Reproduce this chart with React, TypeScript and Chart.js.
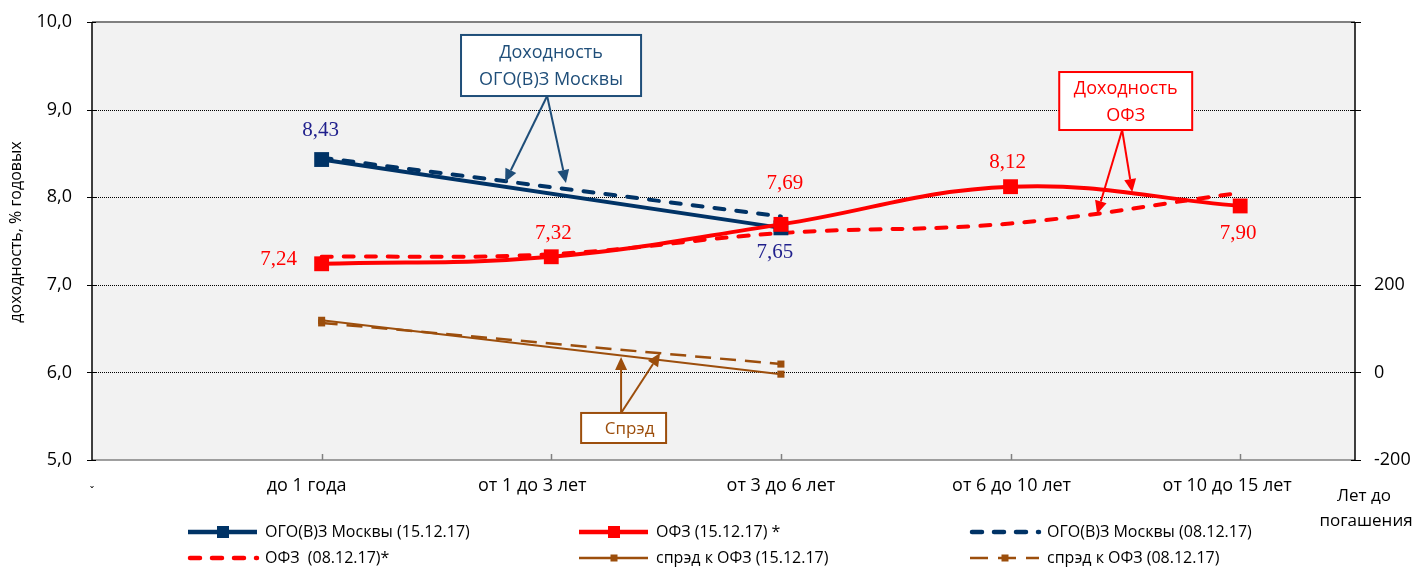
import React, { useEffect, useRef } from "react";
import { Chart, registerables } from "chart.js";
Chart.register(...registerables);

// ---------- data ----------
const categories = ["до 1 года", "от 1 до 3 лет", "от 3 до 6 лет", "от 6 до 10 лет", "от 10 до 15 лет"];
const categoryPositions = [1, 2, 3, 4, 5];
const moscow1512 = [8.43, null, 7.65, null, null];
const ofz1512 = [7.24, 7.32, 7.69, 8.12, 7.9];
const moscow0812 = [8.45, null, 7.78, null, null];
const ofz0812 = [7.32, 7.35, 7.59, 7.7, 8.05];
const spread1512 = [119, null, -4, null, null];
const spread0812 = [113, null, 19, null, null];
const leftTickValues = [5, 6, 7, 8, 9, 10];
const rightTickValues = [-200, 0, 200, 400, 600, 800];
const rightTickLabelMax = 200;
const seriesNames = [
  "ОГО(В)З Москвы (15.12.17)",
  "ОФЗ (15.12.17) *",
  "ОГО(В)З Москвы (08.12.17)",
  "ОФЗ  (08.12.17)*",
  "спрэд к ОФЗ (15.12.17)",
  "спрэд к ОФЗ (08.12.17)",
];
const yTitle = "доходность, % годовых";
const xTitleLines = ["Лет до", "погашения"];

// ---------- styles ----------
const NAVY = "#003366";
const NAVY_LABEL = "#1F1F8C";
const NAVY_BOX = "#1F4E79";
const RED = "#FF0000";
const BROWN = "#9C4E0C";
const SANS = "'Open Sans', 'Noto Sans', sans-serif";
const SERIF = "'Liberation Serif', 'DejaVu Serif', serif";

const toPts = (arr: (number | null)[]) => categoryPositions.map((x, i) => ({ x, y: arr[i] }));

// data labels: dataset index, point index, offset, color
const labelSpecs = [
  { ds: 0, i: 0, dx: -1, dy: -29, color: NAVY_LABEL },
  { ds: 0, i: 2, dx: -6, dy: 25, color: NAVY_LABEL },
  { ds: 1, i: 0, dx: -43, dy: -4, color: RED },
  { ds: 1, i: 1, dx: 2, dy: -23, color: RED },
  { ds: 1, i: 2, dx: 4, dy: -41, color: RED },
  { ds: 1, i: 3, dx: -3, dy: -24, color: RED },
  { ds: 1, i: 4, dx: -2, dy: 28, color: RED },
];

// category label shifts as laid out in the source
const categoryLabelShift = [-15, -19, 0, 1, -13];

// annotation callouts in data coordinates (x, left-axis y)
const callouts = [
  {
    lines: ["Доходность", "ОГО(В)З Москвы"], color: NAVY_BOX, font: 18,
    box: [1.607, 9.852, 2.391, 9.155], from: [1.982, 9.155],
    to: [[1.799, 8.174], [2.064, 8.162]], textDx: 0,
  },
  {
    lines: ["Доходность", "ОФЗ"], color: RED, font: 18,
    box: [4.212, 9.429, 4.791, 8.767], from: [4.486, 8.767],
    to: [[4.377, 7.808], [4.53, 8.059]], textDx: 0,
  },
  {
    lines: ["Спрэд"], color: BROWN, font: 17,
    box: [2.13, 5.537, 2.5, 5.194], from: [2.304, 5.537],
    to: [[2.304, 6.176], [2.474, 6.221]], textDx: 6,
  },
];

function arrow(ctx: CanvasRenderingContext2D, x1: number, y1: number, x2: number, y2: number, color: string) {
  const ang = Math.atan2(y2 - y1, x2 - x1);
  const hl = 13, hw = 6;
  const bx = x2 - hl * Math.cos(ang), by = y2 - hl * Math.sin(ang);
  ctx.save();
  ctx.strokeStyle = color; ctx.fillStyle = color; ctx.lineWidth = 2; ctx.setLineDash([]);
  ctx.beginPath(); ctx.moveTo(x1, y1); ctx.lineTo(bx, by); ctx.stroke();
  ctx.beginPath();
  ctx.moveTo(x2, y2);
  ctx.lineTo(bx + hw * Math.sin(ang), by - hw * Math.cos(ang));
  ctx.lineTo(bx - hw * Math.sin(ang), by + hw * Math.cos(ang));
  ctx.closePath(); ctx.fill();
  ctx.restore();
}

const legendStyles = [
  { color: NAVY, width: 4.5, dash: [] as number[], marker: 12 },
  { color: RED, width: 4.5, dash: [] as number[], marker: 12 },
  { color: NAVY, width: 4.5, dash: [10, 12], marker: 0 },
  { color: RED, width: 4.5, dash: [10, 12], marker: 0 },
  { color: BROWN, width: 2.5, dash: [] as number[], marker: 7 },
  { color: BROWN, width: 2.5, dash: [18, 10], marker: 7 },
];

const noPad = (s: any) => { s.paddingTop = 0; s.paddingBottom = 0; };

const decor = {
  id: "decor",
  beforeDatasetsDraw(chart: any) {
    const { ctx, chartArea: a, scales } = chart;
    const y = scales.y, y1 = scales.y1, x = scales.x;
    ctx.save();
    ctx.fillStyle = "#F2F2F2";
    ctx.fillRect(a.left, a.top, a.right - a.left, a.bottom - a.top);
    // dotted gridlines
    ctx.strokeStyle = "#000"; ctx.lineWidth = 1; ctx.setLineDash([1, 1]);
    leftTickValues.forEach((v) => {
      if (v === y.min || v === y.max) return;
      const py = Math.round(y.getPixelForValue(v)) + 0.5;
      ctx.beginPath(); ctx.moveTo(a.left, py); ctx.lineTo(a.right, py); ctx.stroke();
    });
    ctx.setLineDash([]);
    // borders
    ctx.strokeStyle = "#808080"; ctx.lineWidth = 2;
    ctx.beginPath(); ctx.moveTo(a.left, a.top); ctx.lineTo(a.right, a.top); ctx.stroke();
    ctx.lineWidth = 1.5;
    ctx.beginPath(); ctx.moveTo(a.left, a.bottom); ctx.lineTo(a.right, a.bottom); ctx.stroke();
    // x tick marks (inward)
    categoryPositions.forEach((v) => {
      const px = Math.round(x.getPixelForValue(v)) + 0.5;
      ctx.beginPath(); ctx.moveTo(px, a.bottom); ctx.lineTo(px, a.bottom - 6); ctx.stroke();
    });
    ctx.strokeStyle = "#000"; ctx.lineWidth = 1.5;
    ctx.beginPath(); ctx.moveTo(a.left, a.top); ctx.lineTo(a.left, a.bottom); ctx.stroke();
    ctx.beginPath(); ctx.moveTo(a.right, a.top); ctx.lineTo(a.right, a.bottom); ctx.stroke();
    ctx.lineWidth = 1;
    leftTickValues.forEach((v) => {
      const py = Math.round(y.getPixelForValue(v)) + 0.5;
      ctx.beginPath(); ctx.moveTo(a.left - 5, py); ctx.lineTo(a.left + 4, py); ctx.stroke();
    });
    rightTickValues.forEach((v) => {
      const py = Math.round(y1.getPixelForValue(v)) + 0.5;
      ctx.beginPath(); ctx.moveTo(a.right - 4, py); ctx.lineTo(a.right + 6, py); ctx.stroke();
    });
    // category labels (from the x scale)
    ctx.fillStyle = "#000"; ctx.font = `18px ${SANS}`;
    ctx.textAlign = "center"; ctx.textBaseline = "middle";
    categoryPositions.forEach((v, i) => {
      ctx.fillText(categories[i], x.getPixelForValue(v) + categoryLabelShift[i], a.bottom + 26);
    });
    ctx.font = `11px ${SANS}`;
    ctx.fillText("ˇ", x.getPixelForValue(0), a.bottom + 32);
    ctx.restore();
  },
  afterDatasetsDraw(chart: any) {
    const { ctx, scales } = chart;
    const x = scales.x, y = scales.y;
    ctx.save();
    // data labels
    ctx.font = `21px ${SERIF}`;
    ctx.textAlign = "center"; ctx.textBaseline = "middle";
    labelSpecs.forEach((s) => {
      const el = chart.getDatasetMeta(s.ds).data[s.i];
      const val = (chart.data.datasets[s.ds].data[s.i] as any).y as number;
      ctx.fillStyle = s.color;
      ctx.fillText(val.toFixed(2).replace(".", ","), el.x + s.dx, el.y + s.dy);
    });
    // callouts
    callouts.forEach((c) => {
      const bx1 = x.getPixelForValue(c.box[0]), by1 = y.getPixelForValue(c.box[1]);
      const bx2 = x.getPixelForValue(c.box[2]), by2 = y.getPixelForValue(c.box[3]);
      const fx = x.getPixelForValue(c.from[0]), fy = y.getPixelForValue(c.from[1]);
      c.to.forEach((t) => arrow(ctx, fx, fy, x.getPixelForValue(t[0]), y.getPixelForValue(t[1]), c.color));
      ctx.fillStyle = "#fff";
      ctx.fillRect(bx1, by1, bx2 - bx1, by2 - by1);
      ctx.strokeStyle = c.color; ctx.lineWidth = 2; ctx.setLineDash([]);
      ctx.strokeRect(bx1, by1, bx2 - bx1, by2 - by1);
      ctx.fillStyle = c.color; ctx.font = `${c.font}px ${SANS}`;
      ctx.textAlign = "center"; ctx.textBaseline = "middle";
      const cx = (bx1 + bx2) / 2 + c.textDx, cy = (by1 + by2) / 2;
      const lh = 27;
      c.lines.forEach((ln, k) => ctx.fillText(ln, cx, cy + (k - (c.lines.length - 1) / 2) * lh + 1));
    });
    // y title
    ctx.save();
    ctx.translate(16, 232); ctx.rotate(-Math.PI / 2);
    ctx.fillStyle = "#000"; ctx.font = `16px ${SANS}`;
    ctx.textAlign = "center"; ctx.textBaseline = "middle";
    ctx.fillText(yTitle, 0, 0);
    ctx.restore();
    // x title
    ctx.fillStyle = "#000"; ctx.font = `17px ${SANS}`;
    ctx.textAlign = "center"; ctx.textBaseline = "middle";
    ctx.fillText(xTitleLines[0], 1364, 496);
    ctx.fillText(xTitleLines[1], 1366, 521);
    // legend
    const colX = [188, 579, 970];
    const rowY = [532, 558];
    seriesNames.forEach((name, i) => {
      const st = legendStyles[i];
      const lx = colX[i % 3], ly = rowY[Math.floor(i / 3)];
      ctx.strokeStyle = st.color; ctx.lineWidth = st.width;
      ctx.lineCap = st.dash.length && st.width > 3 ? "round" : "butt";
      ctx.setLineDash(st.dash);
      ctx.beginPath(); ctx.moveTo(lx + (ctx.lineCap === "round" ? 2 : 0), ly); ctx.lineTo(lx + 69, ly); ctx.stroke();
      ctx.setLineDash([]); ctx.lineCap = "butt";
      if (st.marker) {
        ctx.fillStyle = st.color;
        ctx.fillRect(lx + 35 - st.marker / 2, ly - st.marker / 2, st.marker, st.marker);
      }
      ctx.fillStyle = "#000"; ctx.font = `16px ${SANS}`;
      ctx.textAlign = "left"; ctx.textBaseline = "middle";
      ctx.fillText(name, lx + 77, ly);
    });
    ctx.restore();
  },
};

export default function App() {
  const ref = useRef<HTMLCanvasElement>(null);
  useEffect(() => {
    document.body.style.margin = "0";
    const tickFont = { family: SANS, size: 18 };
    const chart = new Chart(ref.current!, {
      type: "line",
      data: {
        datasets: [
          {
            label: seriesNames[0], data: toPts(moscow1512) as any, yAxisID: "y", spanGaps: true,
            borderColor: NAVY, backgroundColor: NAVY, borderWidth: 4, pointStyle: "rect",
            pointRadius: 10.5, pointBorderWidth: 0, tension: 0, order: 2,
          },
          {
            label: seriesNames[1], data: toPts(ofz1512) as any, yAxisID: "y",
            borderColor: RED, backgroundColor: RED, borderWidth: 4, pointStyle: "rect",
            pointRadius: 10.5, pointBorderWidth: 0, tension: 0.4, order: 1,
          },
          {
            label: seriesNames[2], data: toPts(moscow0812) as any, yAxisID: "y", spanGaps: true,
            borderColor: NAVY, borderWidth: 4, borderDash: [10, 12], borderCapStyle: "round",
            pointRadius: 0, tension: 0, order: 3,
          },
          {
            label: seriesNames[3], data: toPts(ofz0812) as any, yAxisID: "y",
            borderColor: RED, borderWidth: 4, borderDash: [10, 12], borderCapStyle: "round",
            pointRadius: 0, tension: 0.4, order: 4,
          },
          {
            label: seriesNames[4], data: toPts(spread1512) as any, yAxisID: "y1", spanGaps: true,
            borderColor: BROWN, backgroundColor: BROWN, borderWidth: 2, pointStyle: "rect",
            pointRadius: 5, pointBorderWidth: 0, tension: 0, order: 5,
          },
          {
            label: seriesNames[5], data: toPts(spread0812) as any, yAxisID: "y1", spanGaps: true,
            borderColor: BROWN, backgroundColor: BROWN, borderWidth: 2.5, borderDash: [16, 9],
            pointStyle: "rect", pointRadius: 5, pointBorderWidth: 0, tension: 0, order: 6,
          },
        ],
      },
      options: {
        responsive: false,
        animation: false,
        events: [],
        layout: { padding: { top: 22, left: 0, right: 0, bottom: 0 } },
        plugins: { legend: { display: false }, tooltip: { enabled: false } },
        scales: {
          x: {
            type: "linear", min: 0, max: 5.5,
            afterBuildTicks: (s: any) => { s.ticks = [0, ...categoryPositions].map((v) => ({ value: v })); },
            ticks: { display: false },
            grid: { display: false, drawTicks: false }, border: { display: false },
            afterFit: (s: any) => { s.height = 109; s.paddingLeft = 0; s.paddingRight = 0; },
          },
          y: {
            position: "left", min: 5, max: 10,
            afterBuildTicks: (s: any) => { s.ticks = leftTickValues.map((v) => ({ value: v })); },
            ticks: {
              padding: 20, color: "#000", font: tickFont,
              callback: (v: any) => Number(v).toFixed(1).replace(".", ","),
            },
            grid: { display: false, drawTicks: false }, border: { display: false },
            afterFit: (s: any) => { s.width = 92; noPad(s); },
          },
          y1: {
            position: "right", min: -200, max: 800,
            afterBuildTicks: (s: any) => { s.ticks = rightTickValues.map((v) => ({ value: v })); },
            ticks: {
              padding: 19, color: "#000", font: tickFont,
              callback: (v: any) => (Number(v) <= rightTickLabelMax ? String(v) : ""),
            },
            grid: { display: false, drawTicks: false }, border: { display: false },
            afterFit: (s: any) => { s.width = 59; noPad(s); },
          },
        },
      },
      plugins: [decor],
    });
    return () => chart.destroy();
  }, []);
  return <canvas ref={ref} width={1414} height={569} style={{ display: "block" }} />;
}
